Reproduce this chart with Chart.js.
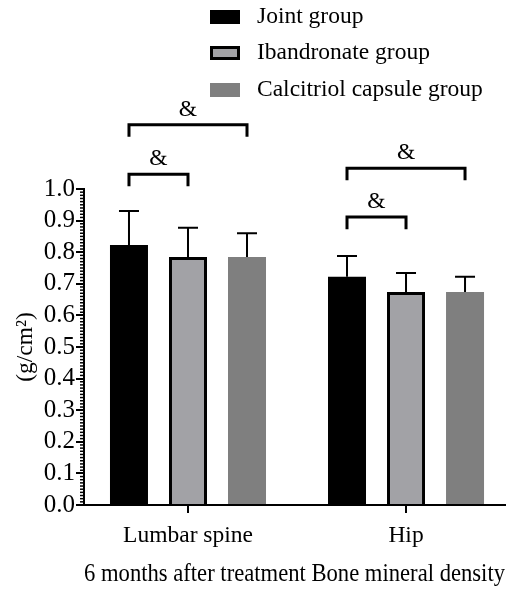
<!DOCTYPE html>
<html><head><meta charset="utf-8">
<script src="https://cdn.jsdelivr.net/npm/chart.js@4.4.1/dist/chart.umd.min.js"></script>
<style>html,body{margin:0;padding:0;background:#fff}#wrap{width:516px;height:592px}</style>
</head><body><div id="wrap"><canvas id="c" width="516" height="592"></canvas></div>
<script>
const categories = ['Lumbar spine', 'Hip'];
const seriesNames = ['Joint group', 'Ibandronate group', 'Calcitriol capsule group'];
const jointValues = [0.823, 0.722];
const jointErrors = [0.107, 0.066];
const ibandValues = [0.785, 0.674];
const ibandErrors = [0.092, 0.060];
const calcValues = [0.785, 0.674];
const calcErrors = [0.075, 0.048];
const yTicks = [0, 0.1, 0.2, 0.3, 0.4, 0.5, 0.6, 0.7, 0.8, 0.9, 1.0];
const xTitle = '6 months after treatment Bone mineral density';
const yTitle = '(g/cm\u00B2)';
// significance brackets: category, from series, to series, level, label
const brackets = [
  {cat: 0, a: 0, b: 2, level: 1.203, label: '&'},
  {cat: 0, a: 0, b: 1, level: 1.047, label: '&'},
  {cat: 1, a: 0, b: 2, level: 1.066, label: '&'},
  {cat: 1, a: 0, b: 1, level: 0.911, label: '&'}
];

const FONT = "'Liberation Serif', 'Times New Roman', serif";
const FS = 23.5;
const errorSets = [jointErrors, ibandErrors, calcErrors];
const toXY = arr => arr.map((v, i) => ({x: i, y: v}));

const errorPlugin = {
  id: 'errs',
  afterDatasetsDraw(chart) {
    const ctx = chart.ctx, ys = chart.scales.y;
    ctx.save();
    ctx.strokeStyle = '#000'; ctx.lineWidth = 2;
    chart.data.datasets.forEach((ds, di) => {
      const meta = chart.getDatasetMeta(di);
      meta.data.forEach((bar, j) => {
        const v = ds.data[j].y, e = errorSets[di][j];
        const yTop = ys.getPixelForValue(v + e), yBar = ys.getPixelForValue(v);
        ctx.beginPath();
        ctx.moveTo(bar.x, yBar); ctx.lineTo(bar.x, yTop);
        ctx.moveTo(bar.x - 10, yTop); ctx.lineTo(bar.x + 10, yTop);
        ctx.stroke();
      });
    });
    // brackets
    ctx.lineWidth = 3;
    ctx.fillStyle = '#000';
    ctx.font = FS + 'px ' + FONT;
    ctx.textAlign = 'center'; ctx.textBaseline = 'middle';
    brackets.forEach(b => {
      const xa = chart.getDatasetMeta(b.a).data[b.cat].x;
      const xb = chart.getDatasetMeta(b.b).data[b.cat].x;
      const y = ys.getPixelForValue(b.level);
      const yl = ys.getPixelForValue(b.level - 0.038);
      ctx.beginPath();
      ctx.moveTo(xa, yl); ctx.lineTo(xa, y); ctx.lineTo(xb, y); ctx.lineTo(xb, yl);
      ctx.stroke();
      ctx.fillText(b.label, (xa + xb) / 2, y - 15);
    });
    // minor ticks
    ctx.lineWidth = 1.5;
    const left = chart.chartArea.left;
    for (let k = 1; k < 100; k++) {
      if (k % 10 === 0) continue;
      const py = ys.getPixelForValue(k / 100);
      ctx.beginPath(); ctx.moveTo(left - 4, py); ctx.lineTo(left, py); ctx.stroke();
    }
    ctx.restore();
  }
};

const legendPlugin = {
  id: 'customLegend',
  afterDraw(chart) {
    const ctx = chart.ctx;
    ctx.save();
    ctx.font = FS + 'px ' + FONT;
    ctx.textAlign = 'left'; ctx.textBaseline = 'middle';
    const rows = [17, 53, 90];
    chart.data.datasets.forEach((ds, i) => {
      const cy = rows[i];
      ctx.fillStyle = ds.backgroundColor;
      ctx.fillRect(210, cy - 7, 30, 14);
      if (ds.borderWidth) {
        ctx.strokeStyle = '#000'; ctx.lineWidth = 3;
        ctx.strokeRect(211.5, cy - 5.5, 27, 11);
      }
      ctx.fillStyle = '#000';
      ctx.fillText(ds.label, 257, cy);
    });
    ctx.restore();
  }
};

new Chart(document.getElementById('c'), {
  type: 'bar',
  data: {
    datasets: [
      {label: seriesNames[0], data: toXY(jointValues), backgroundColor: '#000000', borderWidth: 0},
      {label: seriesNames[1], data: toXY(ibandValues), backgroundColor: '#a2a2a6', borderColor: '#000', borderWidth: 3},
      {label: seriesNames[2], data: toXY(calcValues), backgroundColor: '#7f7f7f', borderWidth: 0}
    ]
  },
  options: {
    responsive: false,
    animation: false,
    devicePixelRatio: 1,
    layout: {padding: {left: 0, right: 11, top: 189, bottom: 0}},
    datasets: {bar: {categoryPercentage: 0.812, barPercentage: 0.644}},
    plugins: {legend: {display: false}, tooltip: {enabled: false}},
    scales: {
      x: {
        type: 'linear',
        offset: false,
        min: -0.477, max: 1.454,
        afterBuildTicks: s => { s.ticks = categories.map((c, i) => ({value: i})); },
        afterFit: s => { s.height = 87; },
        ticks: {callback: v => categories[v], color: '#000', font: {family: FONT, size: FS}, padding: 9, maxRotation: 0, autoSkip: false},
        grid: {display: true, offset: false, drawOnChartArea: false, drawTicks: true, tickLength: 8, color: '#000', lineWidth: 2},
        border: {display: true, color: '#000', width: 2},
        title: {display: true, text: xTitle, color: '#000', font: {family: FONT, size: 24.3}, padding: {top: 0, bottom: 3}}
      },
      y: {
        min: 0, max: 1.0,
        afterBuildTicks: s => { s.ticks = yTicks.map(v => ({value: v})); },
        afterFit: s => { s.width = 84; },
        ticks: {callback: v => v.toFixed(1), color: '#000', font: {family: FONT, size: 25}, padding: 1, autoSkip: false},
        grid: {display: true, drawOnChartArea: false, drawTicks: true, tickLength: 8, color: '#000', lineWidth: 2},
        border: {display: true, color: '#000', width: 2},
        title: {display: true, text: yTitle, color: '#000', font: {family: FONT, size: FS}, padding: {top: 12, bottom: 0}}
      }
    }
  },
  plugins: [errorPlugin, legendPlugin]
});
</script></body></html>
